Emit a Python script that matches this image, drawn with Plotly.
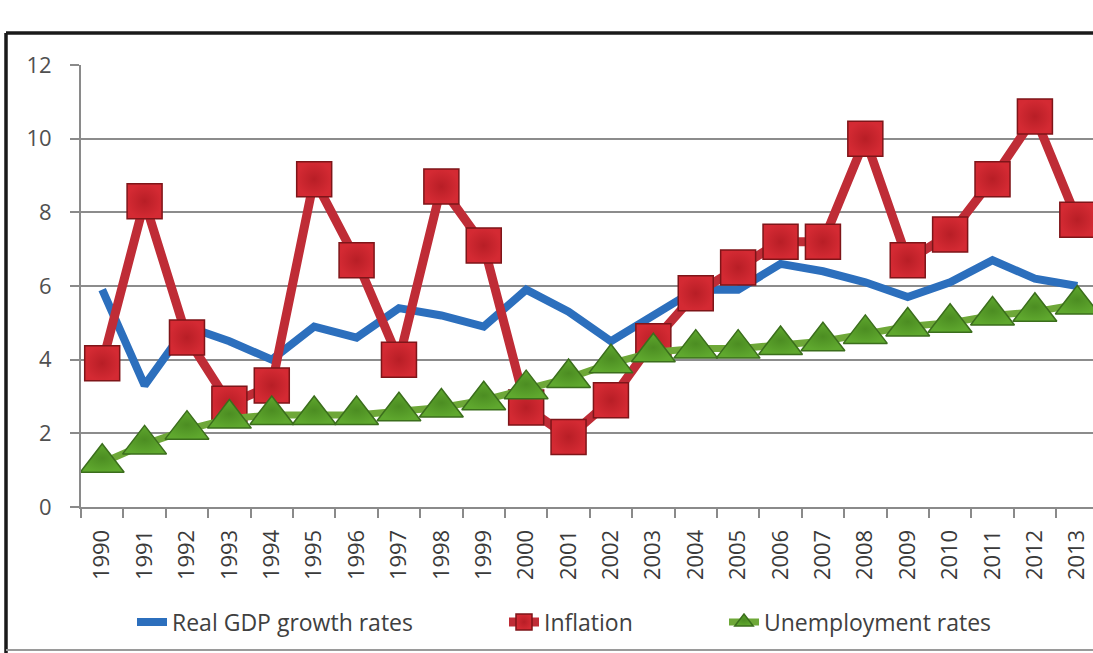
import plotly.graph_objects as go

years = [str(y) for y in range(1990, 2014)]
gdp_growth = [5.9, 3.3, 4.9, 4.5, 4.0, 4.9, 4.6, 5.4, 5.2, 4.9, 5.9, 5.3,
              4.5, 5.2, 5.9, 5.9, 6.6, 6.4, 6.1, 5.7, 6.1, 6.7, 6.2, 6.0]
inflation = [3.9, 8.3, 4.6, 2.8, 3.3, 8.9, 6.7, 4.0, 8.7, 7.1, 2.7, 1.9,
             2.9, 4.5, 5.8, 6.5, 7.2, 7.2, 10.0, 6.7, 7.4, 8.9, 10.6, 7.8]
unemployment = [1.2, 1.7, 2.1, 2.4, 2.5, 2.5, 2.5, 2.6, 2.7, 2.9, 3.2, 3.5,
                3.9, 4.2, 4.3, 4.3, 4.4, 4.5, 4.7, 4.9, 5.0, 5.2, 5.3, 5.5]
y_ticks = [0, 2, 4, 6, 8, 10, 12]

W, H = 1093, 653
L, T, B = 81, 65, 146
PLOT_W, PLOT_H = W - L, H - T - B
FONT = "Open Sans"


def px_x(p):
    return (p - L) / PLOT_W


def px_y(p):
    return (H - B - p) / PLOT_H


fig = go.Figure()

fig.add_trace(go.Scatter(
    x=years, y=gdp_growth, name="Real GDP growth rates", mode="lines",
    line=dict(color="#2c6fbd", width=8), legend="legend",
))
fig.add_trace(go.Scatter(
    x=years, y=inflation, name="Inflation", mode="lines+markers",
    line=dict(color="#bf2c36", width=9),
    marker=dict(symbol="square", size=35, color="#d42a33",
                line=dict(color="#7e1519", width=1.5),
                gradient=dict(type="radial", color="#b81e26")),
    legend="legend2",
))
fig.add_trace(go.Scatter(
    x=years, y=unemployment, name="Unemployment rates", mode="lines+markers",
    line=dict(color="#6ea838", width=7),
    marker=dict(symbol="triangle-up", size=38, color="#5fa82e",
                line=dict(color="#3b6e1c", width=1.5),
                gradient=dict(type="radial", color="#4c8d22")),
    legend="legend3",
))

# Outer chart frame: dark top and left edges, light bottom edge
fig.add_shape(type="line", xref="paper", yref="paper",
              x0=px_x(6), x1=1.05, y0=px_y(33), y1=px_y(33),
              line=dict(color="#1a1a1a", width=3.5))
fig.add_shape(type="line", xref="paper", yref="paper",
              x0=px_x(6), x1=px_x(6), y0=px_y(33), y1=px_y(653),
              line=dict(color="#1a1a1a", width=3.5))
fig.add_shape(type="line", xref="paper", yref="paper",
              x0=px_x(6), x1=1.05, y0=px_y(650), y1=px_y(650),
              line=dict(color="#9a9a9a", width=2))

legend_common = dict(orientation="h", yref="container", xref="container",
                     y=1 - 622 / H, yanchor="middle", xanchor="left",
                     font=dict(family=FONT, size=23, color="#404040"),
                     bgcolor="rgba(0,0,0,0)")

fig.update_layout(
    width=W, height=H,
    margin=dict(l=L, r=0, t=T, b=B),
    paper_bgcolor="white", plot_bgcolor="white",
    font=dict(family=FONT),
    showlegend=True,
    legend=dict(x=132 / W, **legend_common),
    legend2=dict(x=504 / W, **legend_common),
    legend3=dict(x=724 / W, **legend_common),
    xaxis=dict(
        type="category", range=[-0.5, 23.37],
        showgrid=False, showline=True, linecolor="#8a8a8a", linewidth=2,
        ticks="outside", tickson="boundaries", ticklen=9, tickwidth=1.5,
        tickcolor="#8a8a8a", tickangle=-90,
        tickfont=dict(family=FONT, size=22, color="#3a3a3a"),
        ticklabelstandoff=12,
    ),
    yaxis=dict(
        range=[0, 12], tickvals=y_ticks,
        showgrid=True, gridcolor="#8c8c8c", gridwidth=1.8,
        showline=True, linecolor="#8a8a8a", linewidth=2,
        ticks="outside", ticklen=9, tickwidth=1.5, tickcolor="#8a8a8a",
        tickfont=dict(family=FONT, size=22, color="#505050"),
        ticklabelstandoff=14, zeroline=False,
    ),
)

fig.write_html("out.html")
